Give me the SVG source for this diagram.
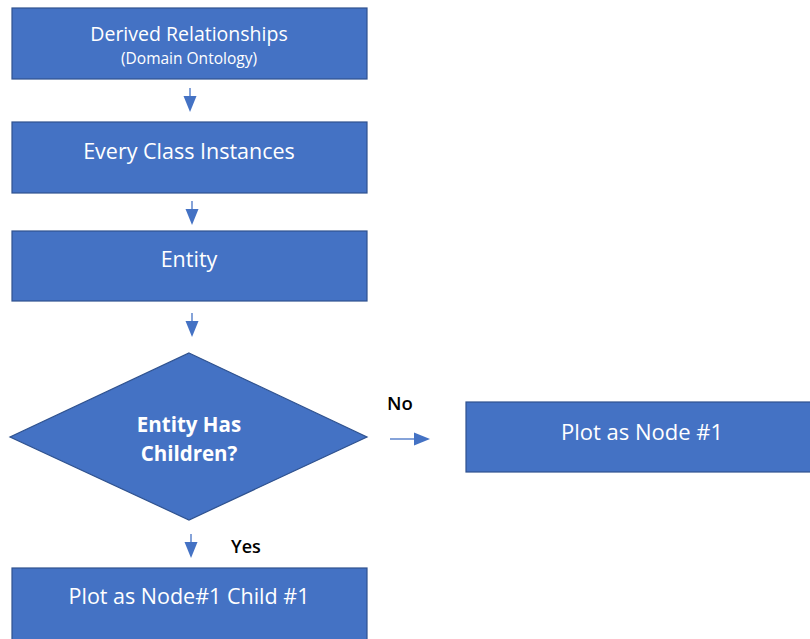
<svg xmlns="http://www.w3.org/2000/svg" width="810" height="639" viewBox="0 0 810 639">
<style>
.box{fill:#4472C4;stroke:#2F528F;stroke-width:1.2}
.t{fill:#fff;font-family:"Open Sans","Liberation Sans",sans-serif;text-anchor:middle}
.lbl{fill:#000;font-family:"Open Sans","Liberation Sans",sans-serif;font-weight:600}
.c{stroke:#4472C4;stroke-width:1.3;fill:none}
.h{fill:#4472C4}
</style>
<rect width="810" height="639" fill="#fff"/>
<g id="n1"><rect class="box" x="12" y="8" width="355" height="71"/>
<text class="t" x="189" y="41" font-size="19.5">Derived Relationships</text>
<text class="t" x="189" y="64" font-size="15.5">(Domain Ontology)</text></g>
<g id="n2"><rect class="box" x="12" y="122" width="355" height="71"/>
<text class="t" x="189" y="159" font-size="21.5">Every Class Instances</text></g>
<g id="n3"><rect class="box" x="12" y="231" width="355" height="70"/>
<text class="t" x="189" y="267" font-size="21.5">Entity</text></g>
<g id="n4"><polygon class="box" points="189,353 367,437 189,520 10,437"/>
<text class="t" x="189" y="432" font-size="20.5" font-weight="bold">Entity Has</text>
<text class="t" x="189" y="461" font-size="20.5" font-weight="bold">Children?</text></g>
<g id="n5"><rect class="box" x="466" y="402" width="350" height="70"/>
<text class="t" x="642" y="440" font-size="22">Plot as Node #1</text></g>
<g id="n6"><rect class="box" x="12" y="568" width="355" height="80"/>
<text class="t" x="189" y="604" font-size="21.5">Plot as Node#1 Child #1</text></g>
<g id="connectors">
<line class="c" x1="190" y1="88" x2="190" y2="100"/><polygon class="h" points="183.5,96 196.5,96 190,112"/>
<line class="c" x1="192" y1="201" x2="192" y2="213"/><polygon class="h" points="185.5,209 198.5,209 192,225"/>
<line class="c" x1="192" y1="313" x2="192" y2="325"/><polygon class="h" points="185.5,321 198.5,321 192,337"/>
<line class="c" x1="390" y1="439" x2="418" y2="439"/><polygon class="h" points="414,432.5 414,445.5 430,439"/>
<line class="c" x1="191" y1="534" x2="191" y2="546"/><polygon class="h" points="184.5,542 197.5,542 191,558"/>
<text class="lbl" x="387" y="410" font-size="18.5">No</text>
<text class="lbl" x="231" y="553" font-size="18">Yes</text>
</g>
</svg>
